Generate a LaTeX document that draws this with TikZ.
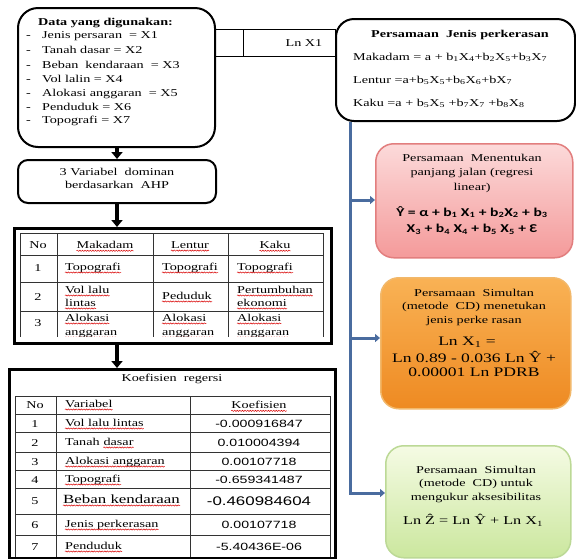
\documentclass[tikz,border=0pt]{standalone}
\usepackage{fontspec}
\setmainfont[FakeStretch=1.35]{Liberation Serif}
\newfontfamily\arsf[FakeStretch=1.35]{Liberation Sans}
\newfontfamily\carl[FakeStretch=1.3]{Carlito}
\usetikzlibrary{arrows.meta,decorations.pathmorphing}
\newcommand\sbs[1]{\textsubscript{#1}}
\newcommand\fsz{\fontsize{10.5}{13}\selectfont}
\definecolor{bluec}{HTML}{4A6C9F}
\definecolor{pinkT}{HTML}{FCDADA}
\definecolor{pinkB}{HTML}{F49A9A}
\definecolor{pinkD}{HTML}{E27E7E}
\definecolor{orT}{HTML}{F9B255}
\definecolor{orB}{HTML}{EE8A22}
\definecolor{orD}{HTML}{F2B86A}
\definecolor{grT}{HTML}{F5FBE4}
\definecolor{grB}{HTML}{CBE79E}
\definecolor{grD}{HTML}{BCD996}
\tikzset{
  bbox/.style={draw=black, line width=2pt, fill=white},
  framest/.style={draw=black, line width=2.5pt},
  gridst/.style={draw=black!80, line width=1pt},
  cellst/.style={draw=black, line width=1pt},
  barrow/.style={line width=3.5pt, -{Triangle[length=7pt,width=11pt]}},
  blu/.style={draw=bluec, line width=3pt},
  barr/.style={blu, -{Triangle[length=5pt,width=8pt]}},
  tx/.style={inner sep=0pt, font=\fsz},
  colbox/.style={rounded corners=18pt, line width=1.5pt, anchor=north west},
  squig/.style={draw=red!85!black, line width=0.5pt, decorate, decoration={snake, amplitude=0.6pt, segment length=2.6pt}},
}
\begin{document}
\begin{tikzpicture}[x=1pt,y=-1pt]
\useasboundingbox (0,0) rectangle (576,558);
\fill[white] (0,0) rectangle (576,558);

% ---------- connector cells between data box and jenis box
\node[cellst, minimum width=29pt, minimum height=27pt, anchor=north west] (c1) at (214,29) {};
\node[cellst, minimum width=92pt, minimum height=27pt, anchor=north west] (c2) at (243,29) {};
\node[tx] (lnx) at (304,43) {Ln X1};

% ---------- data box
\node[bbox, rounded corners=20pt, minimum width=197pt, minimum height=139pt, anchor=north west] (data) at (17,7) {};
\node[tx, anchor=mid west, font=\fsz\bfseries] (d0) at (38,23) {Data yang digunakan:};
\foreach \y/\t [count=\i] in {36/Jenis persaran~~= X1, 51/Tanah dasar = X2, 66/Beban~~kendaraan~~= X3, 80/Vol lalin = X4, 94/Alokasi anggaran~~= X5, 108/Penduduk = X6, 121/Topografi = X7}{
  \node[tx, anchor=mid west] (dd\i) at (26,\y) {-};
  \node[tx, anchor=mid west] (di\i) at (42,\y) {\t};
}

% ---------- jenis perkerasan box
\node[bbox, rounded corners=18pt, minimum width=239pt, minimum height=102pt, anchor=north west] (jenis) at (335,18) {};
\node[tx, font=\fsz\bfseries] (j0) at (460,35) {Persamaan~~Jenis perkerasan};
\node[tx, anchor=mid west] (j1) at (353,58) {Makadam = a + b\sbs{1}X\sbs{4}+b\sbs{2}X\sbs{5}+b\sbs{3}X\sbs{7}};
\node[tx, anchor=mid west] (j2) at (353,81) {Lentur =a+b\sbs{5}X\sbs{5}+b\sbs{6}X\sbs{6}+bX\sbs{7}};
\node[tx, anchor=mid west] (j3) at (353,104) {Kaku =a + b\sbs{5}X\sbs{5} +b\sbs{7}X\sbs{7} +b\sbs{8}X\sbs{8}};

% ---------- AHP box
\node[bbox, rounded corners=10pt, minimum width=198pt, minimum height=43pt, anchor=north west] (ahp) at (17,159) {};
\node[tx] (a1) at (117,172) {3 Variabel~~dominan};
\node[tx] (a2) at (117,185) {berdasarkan~~AHP};

% ---------- table 1
\node[framest, minimum width=317pt, minimum height=115pt, anchor=north west] (t1) at (13,227) {};
\begin{scope}
\clip (19,232) rectangle (324,336);
\foreach \y in {233,255,282,311}{\draw[gridst] (20,\y) -- (323,\y);}
\foreach \x in {20,57,153,228,323}{\draw[gridst] (\x,233) -- (\x,340);}
\node[tx] (h0) at (38,245) {No};
\node[tx] (h1) at (105,245) {Makadam};
\node[tx] (h2) at (190,245) {Lentur};
\node[tx] (h3) at (275,245) {Kaku};
\node[tx] (r1n) at (38,268) {1};
\node[tx, anchor=mid west] (r1a) at (65,268) {Topografi};
\node[tx, anchor=mid west] (r1b) at (162,268) {Topografi};
\node[tx, anchor=mid west] (r1c) at (237,268) {Topografi};
\node[tx] (r2n) at (38,297) {2};
\node[tx, anchor=mid west] (r2a) at (65,291) {Vol lalu};
\node[tx, anchor=mid west] (r2a2) at (65,304) {lintas};
\node[tx, anchor=mid west] (r2b) at (162,297) {Peduduk};
\node[tx, anchor=mid west] (r2c) at (237,291) {Pertumbuhan};
\node[tx, anchor=mid west] (r2c2) at (237,304) {ekonomi};
\node[tx] (r3n) at (38,323) {3};
\foreach \x/\n in {65/a,162/b,237/c}{
  \node[tx, anchor=mid west] (r3\n) at (\x,319) {Alokasi};
  \node[tx, anchor=mid west] (r3\n2) at (\x,333) {anggaran};
}
\foreach \n in {h1,h2,h3,r1a,r1b,r1c,r2a,r2a2,r2b,r2c,r2c2,r3a,r3b,r3c,r3a2,r3b2,r3c2}{
  \draw[squig] ([yshift=-2.2pt]\n.base west) -- ([yshift=-2.2pt]\n.base east);
}
\end{scope}

% ---------- table 2
\node[framest, minimum width=326pt, minimum height=189pt, anchor=north west] (t2) at (8,368) {};
\node[tx] (k0) at (172,379) {Koefisien~~regersi};
\foreach \y in {396,414,432,452,470,488,514,535}{\draw[gridst] (15,\y) -- (330,\y);}
\foreach \x in {15,56,190,330}{\draw[gridst] (\x,396) -- (\x,557);}
\node[tx] (kh0) at (35,405) {No};
\node[tx, anchor=mid west] (kh1) at (65,405) {Variabel};
\node[tx] (kh2) at (259,405) {Koefisien};
\foreach \y/\n/\v/\c in {424/1/{Vol lalu lintas}/{-0.000916847}, 462/3/{Alokasi anggaran}/{0.00107718}, 480/4/{Topografi}/{-0.659341487}, 525/6/{Jenis perkerasan}/{0.00107718}, 547/7/{Penduduk}/{-5.40436E-06}}{
  \node[tx] (kn\n) at (35,\y) {\n};
  \node[tx, anchor=mid west] (kv\n) at (65,\y) {\v};
  \node[tx, font=\fsz\arsf] (kc\n) at (259,\y) {\c};
}
\node[tx] (kn2) at (35,443) {2};
\node[tx, anchor=mid west] (kv2a) at (65,443) {Tanah~~};
\node[tx, anchor=mid west] (kv2) at (kv2a.mid east) {dasar};
\node[tx, font=\fsz\arsf] (kc2) at (259,443) {0.010004394};
\node[tx] (kn5) at (35,501) {5};
\node[tx, anchor=mid west, font=\fontsize{12.5}{14}\selectfont] (kv5) at (63,501) {Beban kendaraan};
\node[tx, font=\fontsize{12.5}{14}\selectfont\arsf] (kc5) at (259,501) {-0.460984604};
\foreach \n in {kh1,kh2,kv1,kv2,kv3,kv4,kv5,kv6,kv7}{
  \draw[squig] ([yshift=-2.2pt]\n.base west) -- ([yshift=-2.2pt]\n.base east);
}

% ---------- coloured boxes
\node[colbox, draw=pinkD, top color=pinkT, bottom color=pinkB, minimum width=197pt, minimum height=114pt] (reg) at (375,143) {};
\node[tx] (g1) at (472,158) {Persamaan~~Menentukan};
\node[tx] (g2) at (472,173) {panjang jalan (regresi};
\node[tx] (g3) at (472,188) {linear)};
\node[tx, font=\fontsize{12}{14}\selectfont\carl\bfseries] (g4) at (472,212) {Ŷ = α + b\sbs{1} X\sbs{1} + b\sbs{2}X\sbs{2} + b\sbs{3}};
\node[tx, font=\fontsize{12}{14}\selectfont\carl\bfseries] (g5) at (472,229) {X\sbs{3} + b\sbs{4} X\sbs{4} + b\sbs{5} X\sbs{5} + Ɛ};

\node[colbox, draw=orD, top color=orT, bottom color=orB, minimum width=190pt, minimum height=131pt] (cd) at (380,277) {};
\node[tx] (o1) at (474,293) {Persamaan~~Simultan};
\node[tx] (o2) at (474,307) {(metode~~CD) menetukan};
\node[tx] (o3) at (474,321) {jenis perke rasan};
\node[tx, font=\fontsize{13}{15}\selectfont] (o4) at (467,342) {Ln X\sbs{1} =};
\node[tx, font=\fontsize{13}{15}\selectfont] (o5) at (474,357) {Ln 0.89 - 0.036 Ln Ŷ +};
\node[tx, font=\fontsize{13}{15}\selectfont] (o6) at (474,372) {0.00001 Ln PDRB};

\node[colbox, draw=grD, top color=grT, bottom color=grB, minimum width=185pt, minimum height=112pt] (acc) at (385,445) {};
\node[tx] (e1) at (476,470) {Persamaan~~Simultan};
\node[tx] (e2) at (476,484) {(metode~~CD) untuk};
\node[tx] (e3) at (476,498) {mengukur aksesibilitas};
\node[tx, font=\fontsize{12}{14}\selectfont] (e4) at (473,520) {Ln Ẑ = Ln Ŷ + Ln X\sbs{1}};

% ---------- black arrows
\coordinate (ax) at (117,0);
\draw[barrow] (data.south -| ax) -- (ahp.north -| ax);
\draw[barrow] (ahp.south -| ax) -- (t1.north -| ax);
\draw[barrow] (t1.south -| ax) -- (t2.north -| ax);

% ---------- blue connectors
\coordinate (vx) at (350,0);
\coordinate (vt) at (jenis.south -| vx);
\coordinate (vb) at (350,493);
\coordinate (v3) at (350,200);
\coordinate (v4) at (350,338);
\draw[barr] (vt) -- (vb) -- (vb -| acc.west);
\draw[barr] (v3) -- (v3 -| reg.west);
\draw[barr] (v4) -- (v4 -| cd.west);
\end{tikzpicture}
\end{document}
